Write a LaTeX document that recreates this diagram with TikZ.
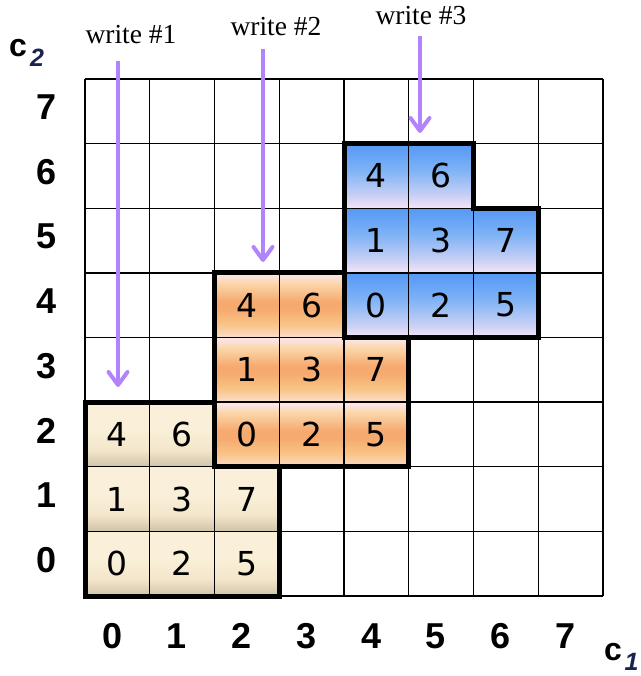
\documentclass[tikz,border=0pt]{standalone}
\usepackage{fontspec}
\setmainfont{Liberation Serif}
\newfontfamily\numfont{DejaVu Sans}
\newfontfamily\axfont{Liberation Sans}
\usetikzlibrary{arrows.meta}
\definecolor{arr}{RGB}{178,132,252}
\definecolor{subc}{RGB}{25,35,80}
\definecolor{bgT}{RGB}{250,240,217}
\definecolor{bgM}{RGB}{243,230,203}
\definecolor{bgB}{RGB}{208,196,168}
\definecolor{orA}{RGB}{252,232,238}
\definecolor{orB}{RGB}{251,212,165}
\definecolor{orC}{RGB}{246,170,112}
\definecolor{orD}{RGB}{249,196,135}
\definecolor{orE}{RGB}{251,222,205}
\definecolor{blT}{RGB}{85,152,245}
\definecolor{blM}{RGB}{125,178,245}
\definecolor{blL}{RGB}{200,208,245}
\definecolor{blB}{RGB}{246,228,245}
\pgfdeclareverticalshading{beigesh}{100bp}{color(0bp)=(bgB); color(25bp)=(bgB); color(38bp)=(bgM); color(55bp)=(bgT); color(75bp)=(bgT); color(100bp)=(bgT)}
\pgfdeclareverticalshading{orangesh}{100bp}{color(0bp)=(orE); color(25bp)=(orE); color(35bp)=(orD); color(47bp)=(orC); color(53bp)=(orC); color(66bp)=(orB); color(75bp)=(orA); color(100bp)=(orA)}
\pgfdeclareverticalshading{bluesh}{100bp}{color(0bp)=(blB); color(25bp)=(blB); color(35bp)=(blL); color(55bp)=(blM); color(75bp)=(blT); color(100bp)=(blT)}
\tikzset{
  gridline/.style={line width=1.4pt, draw=black},
  blockline/.style={line width=5pt, draw=black, line join=miter},
  cellnum/.style={font=\numfont\fontsize{33}{33}\selectfont, inner sep=0pt},
  axlab/.style={font=\axfont\bfseries\fontsize{36}{36}\selectfont, inner sep=0pt},
  writelab/.style={font=\fontsize{27.5}{27.5}\selectfont, inner sep=0pt, anchor=base},
  writearrow/.style={draw=arr, line width=4pt, -{Straight Barb[length=13pt,width=19pt,line cap=round,line join=round]}},
  cletter/.style={font=\axfont\bfseries\fontsize{32}{32}\selectfont, inner sep=0pt},
  csub/.style={font=\axfont\bfseries\itshape\fontsize{25}{25}\selectfont, text=subc, inner sep=0pt}
}
\begin{document}
\begin{tikzpicture}[x=1pt,y=-1pt]
\useasboundingbox (0,0) rectangle (640,676);
\fill[white] (0,0) rectangle (640,676);
\begin{scope}[shift={(85,596)}, x=64.75pt, y=64.625pt]
  % shaded cells
  \foreach \o/\sh in {0/beigesh,2/orangesh,4/bluesh}{
    \foreach \dx/\dy in {0/0,1/0,2/0,0/1,1/1,2/1,0/2,1/2}{
      \shade[shading=\sh] (\o+\dx,\o+\dy) rectangle ++(1,1);
    }
  }
  % grid
  \foreach \i in {0,...,8}{
    \draw[gridline] (\i,0) -- (\i,8);
    \draw[gridline] (0,\i) -- (8,\i);
  }
  % block outlines
  \foreach \o in {0,2,4}{
    \draw[blockline] (\o,\o) -- ++(3,0) -- ++(0,2) -- ++(-1,0) -- ++(0,1) -- ++(-2,0) -- cycle;
  }
  % numbers
  \foreach \o in {0,2,4}{
    \foreach \dx/\dy/\n in {0/0/0,1/0/2,2/0/5,0/1/1,1/1/3,2/1/7,0/2/4,1/2/6}{
      \node[cellnum] (n\o\dx\dy) at (\o+\dx+0.5,\o+\dy+0.5) {\n};
    }
  }
  % axis labels
  \foreach \i in {0,...,7}{
    \node[axlab] (r\i) at (-0.6,\i+0.56) {\i};
    \node[axlab] (c\i) at (\i+0.42,-0.62) {\i};
  }
\end{scope}
% axis names
\node[cletter] (c2c) at (18,48) {c};
\node[csub] (c2s) at (37,58) {2};
\node[cletter] (c1c) at (613,652) {c};
\node[csub] (c1s) at (631.5,662) {1};
% write labels and arrows
\node[writelab] (w1) at (131,44) {write \#1};
\node[writelab] (w2) at (276,36) {write \#2};
\node[writelab] (w3) at (421,25) {write \#3};
\coordinate (a1s) at (118,61);
\coordinate (a1e) at (118,387);
\coordinate (a2s) at (263,49);
\coordinate (a2e) at (263,262);
\coordinate (a3s) at (420,36);
\coordinate (a3e) at (420,133);
\draw[writearrow] (a1s) -- (a1e);
\draw[writearrow] (a2s) -- (a2e);
\draw[writearrow] (a3s) -- (a3e);
\end{tikzpicture}
\end{document}
